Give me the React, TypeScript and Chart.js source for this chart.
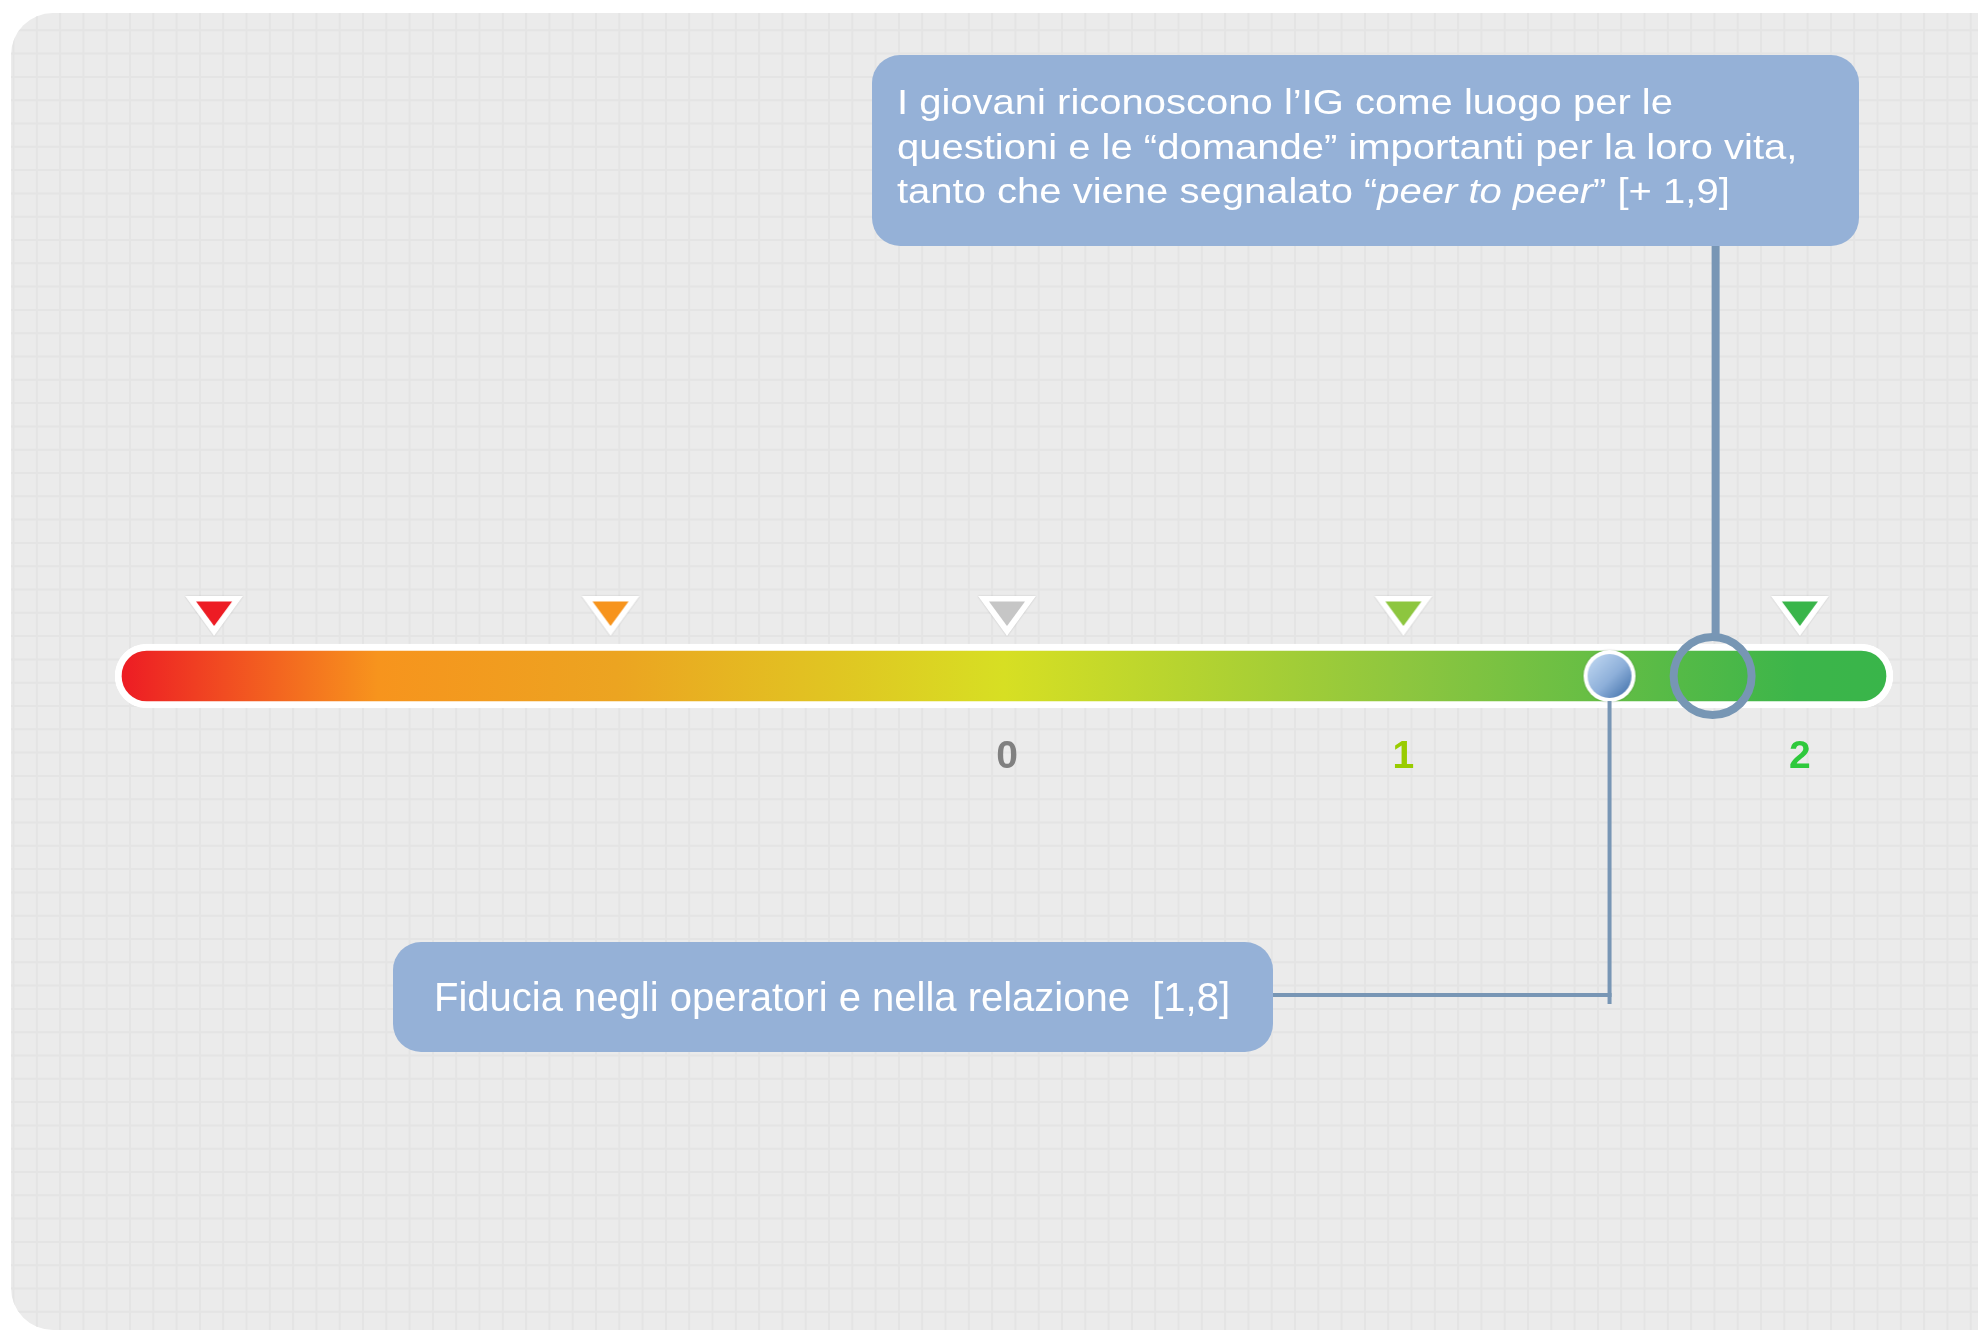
import React, { useEffect, useRef } from 'react';
import { Chart, registerables } from 'chart.js';

Chart.register(...registerables);

// ---- data ----
const scaleRange = [-2.25, 2.235];
const tickValues = [-2, -1, 0, 1, 2];
const tickLabels = ['', '', '0', '1', '2'];
const tickLabelColors = ['#808080', '#808080', '#808080', '#99cc00', '#2ec93c'];
const triangleColors = ['#ed1c24', '#f7941d', '#c6c6c6', '#8dc63f', '#39b54a'];
// positions of the two markers as drawn on the reference scale
// (their labels read [1,8] and [+ 1,9])
const markerValues = [1.52, 1.78];
const markerLabels = [
  'Fiducia negli operatori e nella relazione  [1,8]',
  'I giovani riconoscono l’IG come luogo per le|questioni e le “domande” importanti per la loro vita,|tanto che viene segnalato “',
];
const upperItalic = 'peer to peer';
const upperTail = '” [+ 1,9]';
const barRow = 1;
const triangleRow = 2.5;

const FONT = '"Liberation Sans", Arial, Helvetica, sans-serif';

function rrPath(ctx: CanvasRenderingContext2D, x: number, y: number, w: number, h: number, r: number) {
  ctx.beginPath();
  ctx.moveTo(x + r, y);
  ctx.lineTo(x + w - r, y);
  ctx.arcTo(x + w, y, x + w, y + r, r);
  ctx.lineTo(x + w, y + h - r);
  ctx.arcTo(x + w, y + h, x + w - r, y + h, r);
  ctx.lineTo(x + r, y + h);
  ctx.arcTo(x, y + h, x, y + h - r, r);
  ctx.lineTo(x, y + r);
  ctx.arcTo(x, y, x + r, y, r);
  ctx.closePath();
}

function makeTriangle(color: string): HTMLCanvasElement {
  const c = document.createElement('canvas');
  c.width = 62;
  c.height = 44;
  const g = c.getContext('2d')!;
  g.save();
  g.shadowColor = 'rgba(0,0,0,0.18)';
  g.shadowBlur = 2;
  g.beginPath();
  g.moveTo(2, 2);
  g.lineTo(60, 2);
  g.lineTo(31, 42);
  g.closePath();
  g.fillStyle = '#ffffff';
  g.fill();
  g.restore();
  g.beginPath();
  g.moveTo(13, 7.5);
  g.lineTo(49, 7.5);
  g.lineTo(31, 32);
  g.closePath();
  g.fillStyle = color;
  g.fill();
  return c;
}

function makeBall(): HTMLCanvasElement {
  const c = document.createElement('canvas');
  c.width = 58;
  c.height = 58;
  const g = c.getContext('2d')!;
  g.save();
  g.shadowColor = 'rgba(0,0,0,0.2)';
  g.shadowBlur = 2;
  g.beginPath();
  g.arc(29, 29, 26, 0, Math.PI * 2);
  g.fillStyle = '#ffffff';
  g.fill();
  g.restore();
  const grad = g.createLinearGradient(12, 12, 46, 46);
  grad.addColorStop(0, '#b9d2ee');
  grad.addColorStop(0.55, '#8eb0da');
  grad.addColorStop(1, '#4f7cb3');
  g.beginPath();
  g.arc(29, 29, 22, 0, Math.PI * 2);
  g.fillStyle = grad;
  g.fill();
  return c;
}

const panelPlugin = {
  id: 'panelBg',
  beforeDraw(chart: any) {
    const { ctx, width, height } = chart;
    ctx.save();
    ctx.fillStyle = '#ffffff';
    ctx.fillRect(0, 0, width, height);
    rrPath(ctx, 11, 13, 2010, 1317, 42);
    ctx.fillStyle = '#ebebeb';
    ctx.fill();
    ctx.clip();
    ctx.strokeStyle = '#e4e4e4';
    ctx.lineWidth = 2;
    ctx.beginPath();
    for (let x = 13.5; x < width; x += 23.3) {
      ctx.moveTo(x, 0);
      ctx.lineTo(x, height);
    }
    for (let y = 7; y < height; y += 23.3) {
      ctx.moveTo(0, y);
      ctx.lineTo(width, y);
    }
    ctx.stroke();
    ctx.restore();
  },
};

const calloutPlugin = {
  id: 'callouts',
  afterDraw(chart: any) {
    const { ctx } = chart;
    const ballMeta = chart.getDatasetMeta(2).data[0];
    const ringMeta = chart.getDatasetMeta(3).data[0];
    const boxColor = '#95b1d7';
    const lineColor = '#7896b5';
    ctx.save();
    // connectors
    ctx.strokeStyle = lineColor;
    ctx.lineCap = 'butt';
    ctx.lineWidth = 4;
    ctx.beginPath();
    ctx.moveTo(ballMeta.x, ballMeta.y + 25);
    ctx.lineTo(ballMeta.x, 1004);
    ctx.stroke();
    ctx.beginPath();
    ctx.moveTo(ballMeta.x + 2, 995);
    ctx.lineTo(1272, 995);
    ctx.stroke();
    ctx.lineWidth = 8;
    ctx.beginPath();
    ctx.moveTo(ringMeta.x + 3, 240);
    ctx.lineTo(ringMeta.x + 3, ringMeta.y - 40);
    ctx.stroke();

    // lower box
    rrPath(ctx, 393, 942, 880, 110, 28);
    ctx.fillStyle = boxColor;
    ctx.fill();
    ctx.fillStyle = '#ffffff';
    ctx.textBaseline = 'alphabetic';
    ctx.textAlign = 'left';
    ctx.font = `40px ${FONT}`;
    ctx.fillText(markerLabels[0], 434, 1011);

    // upper box
    rrPath(ctx, 872, 55, 987, 191, 28);
    ctx.fillStyle = boxColor;
    ctx.fill();
    ctx.fillStyle = '#ffffff';
    const lines = markerLabels[1].split('|');
    const baselines = [114, 159, 203];
    lines.forEach((line, i) => {
      ctx.save();
      ctx.translate(897, baselines[i]);
      ctx.scale(1, 0.86);
      ctx.font = `40px ${FONT}`;
      ctx.fillText(line, 0, 0);
      if (i === lines.length - 1) {
        let x = ctx.measureText(line).width;
        ctx.font = `italic 40px ${FONT}`;
        ctx.fillText(upperItalic, x, 0);
        x += ctx.measureText(upperItalic).width;
        ctx.font = `40px ${FONT}`;
        ctx.fillText(upperTail, x, 0);
      }
      ctx.restore();
    });
    ctx.restore();
  },
};

export default function App() {
  const ref = useRef<HTMLCanvasElement | null>(null);
  useEffect(() => {
    if (!ref.current) return;
    const triangles = triangleColors.map(makeTriangle);
    const ball = makeBall();
    const chart = new Chart(ref.current, {
      type: 'scatter',
      data: {
        datasets: [
          {
            type: 'bar',
            indexAxis: 'y',
            data: [{ x: [scaleRange[0], scaleRange[1]], y: barRow }],
            backgroundColor: (c: any) => {
              const area = c.chart.chartArea;
              if (!area) return '#8dc63f';
              const g = c.chart.ctx.createLinearGradient(area.left + 7, 0, area.right - 7, 0);
              g.addColorStop(0, '#ed1c24');
              g.addColorStop(0.145, '#f7941d');
              g.addColorStop(0.28, '#eca421');
              g.addColorStop(0.5, '#d7df23');
              g.addColorStop(0.728, '#8dc63f');
              g.addColorStop(0.95, '#3cb54a');
              g.addColorStop(1, '#39b54a');
              return g;
            },
            borderColor: '#ffffff',
            borderWidth: 7,
            borderRadius: 32,
            borderSkipped: false,
            barThickness: 64,
            order: 3,
          } as any,
          {
            type: 'scatter',
            data: tickValues.map((v) => ({ x: v, y: triangleRow })),
            pointStyle: triangles as any,
            pointRadius: 20,
            order: 2,
            clip: false,
          } as any,
          {
            type: 'scatter',
            data: [{ x: markerValues[0], y: barRow }],
            pointStyle: ball as any,
            pointRadius: 20,
            order: 1,
            clip: false,
          } as any,
          {
            type: 'scatter',
            data: [{ x: markerValues[1], y: barRow }],
            pointStyle: 'circle',
            pointRadius: 39,
            borderWidth: 8,
            borderColor: '#7796b4',
            backgroundColor: 'rgba(0,0,0,0)',
            order: 0,
            clip: false,
          } as any,
        ],
      },
      options: {
        responsive: false,
        animation: false,
        devicePixelRatio: 1,
        events: [],
        layout: { padding: { left: 115, right: 85, top: 556, bottom: 533 } },
        plugins: { legend: { display: false }, tooltip: { enabled: false } },
        scales: {
          x: {
            type: 'linear',
            min: scaleRange[0],
            max: scaleRange[1],
            offset: false,
            grid: { display: false, drawTicks: false },
            border: { display: false },
            ticks: {
              stepSize: 1,
              includeBounds: false,
              autoSkip: false,
              maxRotation: 0,
              padding: 17.6,
              font: { family: FONT, size: 39, weight: 'bold', lineHeight: 1.2 },
              color: (c: any) => {
                const i = tickValues.indexOf(Math.round(c.tick?.value ?? 0));
                return i >= 0 ? tickLabelColors[i] : '#808080';
              },
              callback: (v: any) => {
                const i = tickValues.indexOf(Math.round(Number(v)));
                return i >= 0 ? tickLabels[i] : '';
              },
            },
          },
          y: { type: 'linear', display: false, min: 0, max: 4, offset: false },
        },
      } as any,
      plugins: [panelPlugin, calloutPlugin],
    });
    return () => chart.destroy();
  }, []);
  return (
    <div style={{ position: 'fixed', left: 0, top: 0, width: 1978, height: 1331, overflow: 'hidden' }}>
      <canvas ref={ref} width={1978} height={1331} style={{ display: 'block' }} />
    </div>
  );
}
